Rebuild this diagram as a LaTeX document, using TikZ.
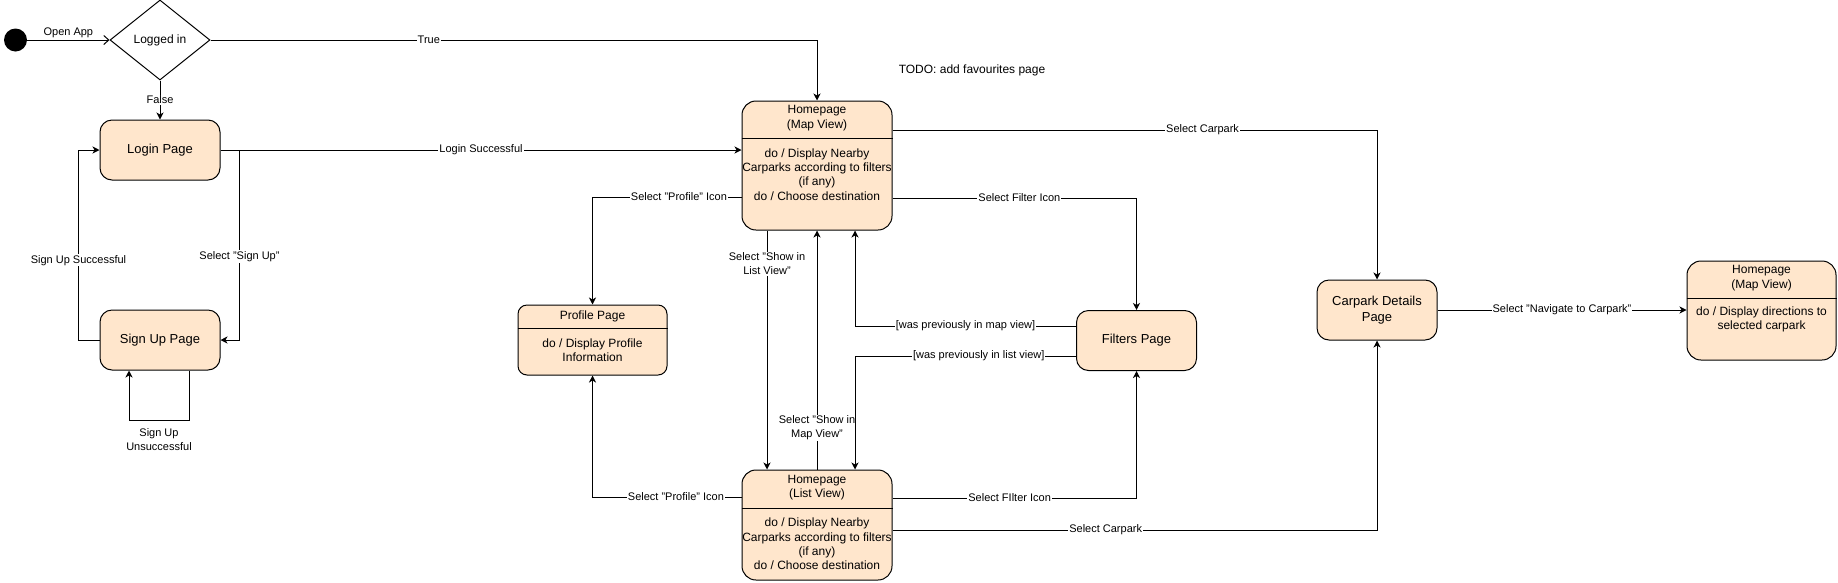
\documentclass[tikz,border=0pt]{standalone}
\usepackage{fontspec}
\setmainfont{Liberation Sans}
\usetikzlibrary{shapes.geometric,arrows.meta}
\definecolor{peach}{HTML}{FFE6CC}
\tikzstyle{initial}=[circle, fill=black, minimum size=23, inner sep=0]
\tikzstyle{choice}=[diamond, draw=black, fill=white, line width=1, minimum width=100, minimum height=80, inner sep=0, font=\fontsize{12}{14}\selectfont]
\tikzstyle{state}=[rectangle, rounded corners=12, fill=peach, draw=black, line width=1, minimum width=120, minimum height=60, align=center, font=\fontsize{13}{15.5}\selectfont]
\tikzstyle{page}=[rectangle, rounded corners=14, fill=peach, draw=black, line width=1]
\tikzstyle{part}=[align=center, inner sep=0, font=\fontsize{12}{14.3}\selectfont]
\tikzstyle{flow}=[-{Stealth[length=7pt,width=7pt,inset=2pt]}, draw=black, line width=1]
\tikzstyle{openflow}=[-{Straight Barb[length=5pt,width=9pt]}, draw=black, line width=1]
\tikzstyle{lbl}=[fill=white, inner sep=1pt, align=center, font=\fontsize{11}{14}\selectfont]
\pgfdeclarelayer{edgelayer}
\pgfdeclarelayer{nodelayer}
\pgfsetlayers{edgelayer,nodelayer,main}

\begin{document}
\begin{tikzpicture}[x=1pt, y=-1pt]
            \useasboundingbox (0, 0) rectangle (1838, 582);
            \begin{pgfonlayer}{nodelayer}
                \node [style=initial] (start) at (15.5, 40) {};
                \node [style=choice] (loggedin) at (160, 40) {Logged in};
                \node [style=state] (login) at (160, 150) {Login Page};
                \node [style=state] (signup) at (160, 340) {Sign Up Page};

                \node [style=page, minimum width=150, minimum height=129] (homemap) at (817, 165.5) {};
                \node [style=part] (homemaphead) at (817, 118) {Homepage\\(Map View)};
                \node [style=part] (homemapbody) at (817, 174.5) {do / Display Nearby\\Carparks according to filters\\(if any)\\do / Choose destination};
                \draw [line width=1] ([yshift=-38pt]homemap.north west) -- ([yshift=-38pt]homemap.north east);

                \node [style=page, rounded corners=9, minimum width=149, minimum height=70] (profile) at (592.5, 340) {};
                \node [style=part] (profilehead) at (592.5, 316.5) {Profile Page};
                \node [style=part] (profilebody) at (592.5, 350) {do / Display Profile\\Information};
                \draw [line width=1] ([yshift=-24pt]profile.north west) -- ([yshift=-24pt]profile.north east);

                \node [style=page, minimum width=150, minimum height=110] (homelist) at (817, 525) {};
                \node [style=part] (homelisthead) at (817, 487.5) {Homepage\\(List View)};
                \node [style=part] (homelistbody) at (817, 544) {do / Display Nearby\\Carparks according to filters\\(if any)\\do / Choose destination};
                \draw [line width=1] ([yshift=-39pt]homelist.north west) -- ([yshift=-39pt]homelist.north east);

                \node [style=state] (filters) at (1136.5, 340.5) {Filters Page};
                \node [style=state] (details) at (1377, 310) {Carpark Details\\Page};

                \node [style=page, minimum width=149, minimum height=99] (navmap) at (1761.5, 310.5) {};
                \node [style=part] (navmaphead) at (1761.5, 278) {Homepage\\(Map View)};
                \node [style=part] (navmapbody) at (1761.5, 319.5) {do / Display directions to\\selected carpark};
                \draw [line width=1] ([yshift=-38pt]navmap.north west) -- ([yshift=-38pt]navmap.north east);

                \node [font=\fontsize{12}{14}\selectfont] (todo) at (972, 70) {TODO: add favourites page};
            \end{pgfonlayer}
            \begin{pgfonlayer}{edgelayer}
                \draw [style=openflow] (start) -- node [style=lbl, fill=none, above=1pt] {Open App} (loggedin.west);
                \draw [style=flow] (loggedin.east) -| node [style=lbl, pos=0.18] {True} (homemap.north);
                \draw [style=flow] (loggedin.south) -- node [style=lbl] {False} (login.north);
                \draw [style=flow] (login.east) -- node [style=lbl] {Login Successful} (login.east -| homemap.west);
                \draw [style=flow] (login.east) -- ++(19, 0) |- node [style=lbl, pos=0.28] {Select "Sign Up"} (signup.east);
                \draw [style=flow] (signup.west) -- ++(-21, 0) |- node [style=lbl, pos=0.21] {Sign Up Successful} (login.west);
                \draw [style=flow] ([xshift=29pt]signup.south) -- ++(0, 50) -| node [style=lbl, fill=none, pos=0.25, below=7pt] {Sign Up\\Unsuccessful} ([xshift=-31pt]signup.south);

                \draw [style=flow] ([yshift=-31.5pt]homemap.west) -| node [style=lbl, pos=0.21] {Select "Profile" Icon} (profile.north);
                \draw [style=flow] ([yshift=-32.5pt]homemap.east) -| node [style=lbl, pos=0.26] {Select Filter Icon} (filters.north);
                \draw [style=flow] ([yshift=35.5pt]homemap.east) -| node [style=lbl, pos=0.32] {Select Carpark} (details.north);
                \draw [style=flow] ([xshift=-50pt]homemap.south) -- node [style=lbl, pos=0.14] {Select "Show in\\List View"} ([xshift=-50pt]homelist.north);
                \draw [style=flow] (homelist.north) -- node [style=lbl, pos=0.175] {Select "Show in\\Map View"} (homemap.south);
                \draw [style=flow] ([yshift=14.5pt]filters.west) -| node [style=lbl, pos=0.25] {[was previously in map view]} ([xshift=38pt]homemap.south);
                \draw [style=flow] ([yshift=-15.5pt]filters.west) -| node [style=lbl, pos=0.22] {[was previously in list view]} ([xshift=38pt]homelist.north);

                \draw [style=flow] ([yshift=28pt]homelist.west) -| node [style=lbl, pos=0.22] {Select "Profile" Icon} (profile.south);
                \draw [style=flow] ([yshift=27pt]homelist.east) -| node [style=lbl, pos=0.24] {Select FIlter Icon} (filters.south);
                \draw [style=flow] ([yshift=-5pt]homelist.east) -| node [style=lbl, pos=0.22] {Select Carpark} (details.south);
                \draw [style=flow] (details.east) -- node [style=lbl] {Select "Navigate to Carpark"} (details.east -| navmap.west);
            \end{pgfonlayer}
        \end{tikzpicture}
\end{document}
